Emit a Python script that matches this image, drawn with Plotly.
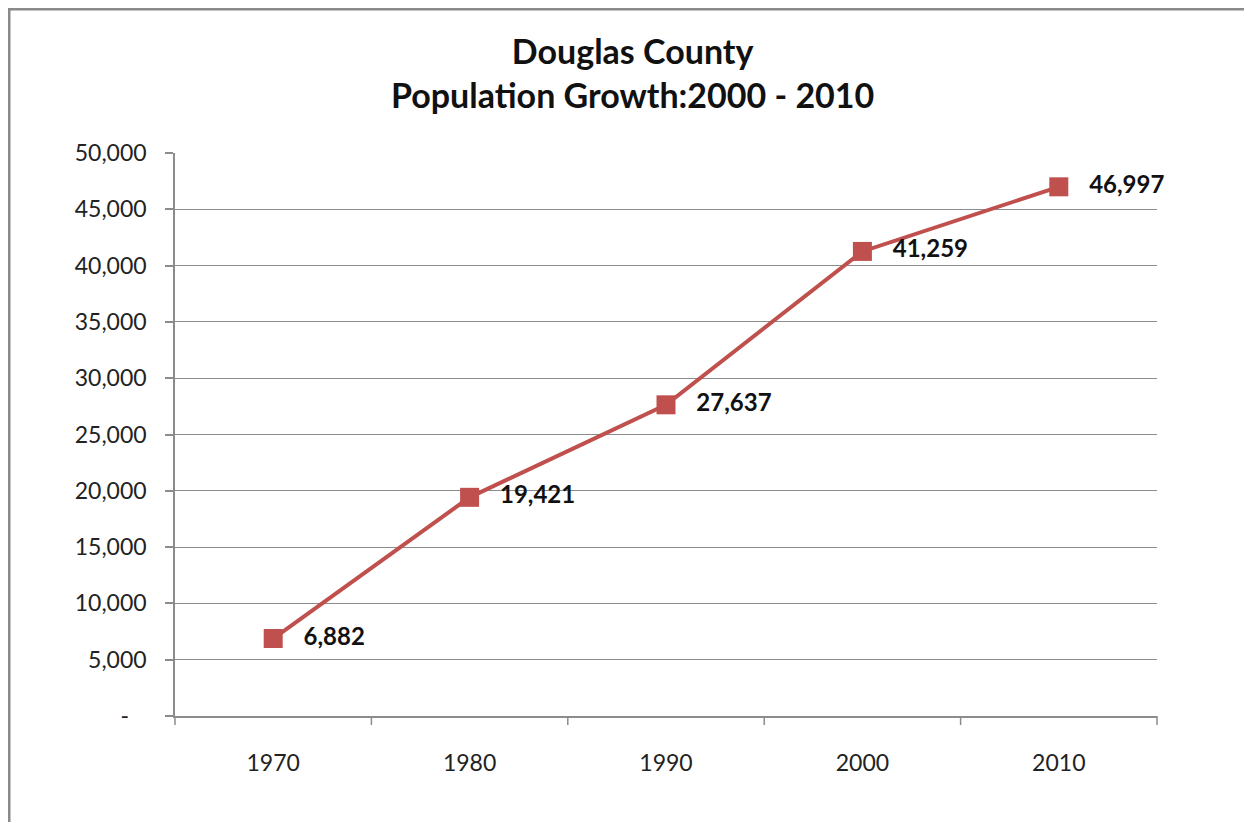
import plotly.graph_objects as go

years = ["1970", "1980", "1990", "2000", "2010"]
population = [6882, 19421, 27637, 41259, 46997]
labels = ["6,882", "19,421", "27,637", "41,259", "46,997"]
ytick_vals = [0, 5000, 10000, 15000, 20000, 25000, 30000, 35000, 40000, 45000, 50000]
ytick_text = ["-\u00a0\u00a0\u00a0", "5,000", "10,000", "15,000", "20,000", "25,000", "30,000", "35,000", "40,000", "45,000", "50,000"]

# page has an 8px body margin; work in figure coordinates (reference - 8)
OFF = 8
W, H = 1252 - OFF, 822 - OFF
L, R, T, B = 175 - OFF, 1157 - OFF, 153 - OFF, 716 - OFF

def px(x):
    return (x - OFF - L) / (R - L)

def py(y):
    return (B - (y - OFF)) / (B - T)

FONT = "Lato, Open Sans, sans-serif"
RED = "#C0504D"
GRID = "#8c8c8c"

fig = go.Figure()
fig.add_trace(go.Scatter(
    x=list(range(len(years))), y=population,
    mode="lines+markers+text",
    line=dict(color=RED, width=4),
    marker=dict(symbol="square", size=19, color=RED),
    text=["   " + t for t in labels],
    textposition="middle right",
    textfont=dict(family=FONT, size=24, color="#111111", weight="bold"),
    cliponaxis=False,
    hoverinfo="skip",
))

fig.update_layout(
    width=W, height=H,
    margin=dict(l=L, r=W - R, t=T, b=H - B),
    paper_bgcolor="white", plot_bgcolor="white",
    showlegend=False,
    font=dict(family=FONT, size=23, color="#222222"),
    xaxis=dict(
        range=[-0.5, 4.5],
        tickvals=list(range(len(years))), ticktext=years,
        showgrid=False, zeroline=False,
        showline=True, linecolor=GRID, linewidth=1.5,
        ticks="", ticklabelstandoff=26,
        tickfont=dict(family=FONT, size=23, color="#222222"),
        fixedrange=True,
    ),
    yaxis=dict(
        range=[0, 50000],
        tickvals=ytick_vals, ticktext=ytick_text,
        showgrid=True, gridcolor=GRID, gridwidth=1,
        zeroline=False,
        showline=True, linecolor=GRID, linewidth=1.5,
        ticks="outside", ticklen=8, tickcolor=GRID, tickwidth=1.5,
        ticklabelstandoff=14,
        tickfont=dict(family=FONT, size=23, color="#222222"),
        fixedrange=True,
    ),
)

shapes = []
# category boundary ticks on x axis
for i in range(len(years) + 1):
    xb = i / len(years)
    shapes.append(dict(type="line", xref="paper", yref="paper",
                       x0=xb, x1=xb, y0=0, y1=-9 / (B - T),
                       line=dict(color=GRID, width=1.5)))
# outer chart border
shapes.append(dict(type="line", xref="paper", yref="paper",
                   x0=px(8), x1=px(1260), y0=py(9), y1=py(9),
                   line=dict(color="#8a8a8a", width=3)))
shapes.append(dict(type="line", xref="paper", yref="paper",
                   x0=px(9), x1=px(9), y0=py(8), y1=py(830),
                   line=dict(color="#8a8a8a", width=3)))
fig.update_layout(shapes=shapes)

fig.add_annotation(
    text="<b>Douglas County</b><br><b>Population Growth:2000 - 2010</b>",
    xref="paper", yref="paper", x=px(632), y=py(73),
    xanchor="center", yanchor="middle", showarrow=False,
    font=dict(family=FONT, size=34, color="#111111"),
    align="center",
)

fig.write_html("out.html")
